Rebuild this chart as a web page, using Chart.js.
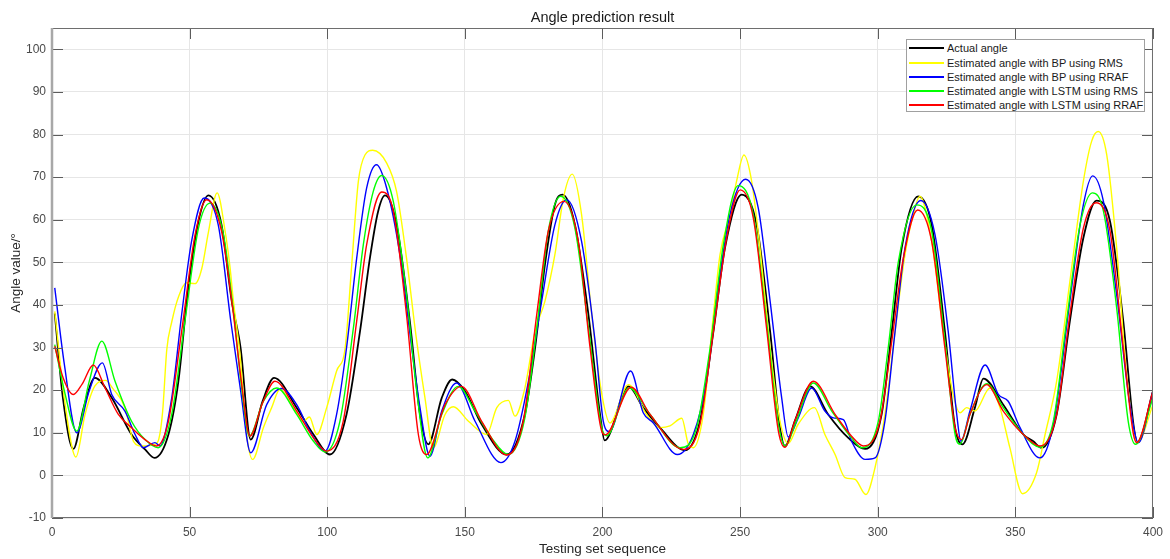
<!DOCTYPE html>
<html lang="en">
<head>
<meta charset="UTF-8">
<title>Angle prediction result</title>
<script src="https://cdn.jsdelivr.net/npm/chart.js"></script>
<style>
  html, body { margin: 0; padding: 0; background: #fff; }
  #wrap { position: relative; width: 1170px; height: 559px; }
  #legend {
    position: absolute; left: 906px; top: 39px; width: 237px; height: 71px;
    border: 1px solid #a0a0a0; background: #fff;
    font: 11px "Liberation Sans", Arial, sans-serif; color: #1a1a1a;
  }
  .row { position: absolute; left: 0; height: 14px; line-height: 14px; white-space: nowrap; }
  .row .swatch { position: absolute; left: 2px; top: 6px; width: 35px; height: 2px; }
  .row .txt { position: absolute; left: 40px; top: 0; }
</style>
</head>
<body>
<div id="wrap">
  <canvas id="c" width="1170" height="559"></canvas>
  <div id="legend"></div>
</div>
<script>
const titleText = 'Angle prediction result';
const xTitle = 'Testing set sequence';
const yTitle = 'Angle value/°';

// actual angle
const actualX = [1, 4, 7.75, 11.5, 15.6, 21.7, 28.9, 33.8, 37.2, 42.3, 45.9, 49.5, 53.2, 56.8, 61.6, 65.3, 68.5, 72.2, 76.5, 80.7, 88.9, 95, 101, 107, 111.9, 115.5, 118.5, 121, 125.2, 130, 133.7, 136.7, 141.6, 145.4, 150, 156.1, 165.2, 171.8, 175.5, 179.1, 182.7, 185.5, 190, 194.9, 199.1, 200.8, 209.4, 214.8, 220.9, 230, 235.4, 240.3, 244.5, 250.6, 256, 260.9, 264.5, 266.3, 270, 275.4, 282, 289.3, 295.4, 301.4, 305.1, 308.7, 314.7, 319.6, 324.4, 328.1, 330.8, 335.3, 338.4, 345.6, 352.9, 356.5, 359.5, 365, 369.8, 374.7, 379.5, 384.4, 389.2, 392.9, 394.4, 400];
const actualY = [38, 18, 6.2, 15.9, 22.9, 18.2, 9.6, 6.1, 4.1, 9.6, 22, 44, 59.6, 65.7, 58.8, 40.9, 30, 8.4, 17.4, 22.9, 15.9, 9.6, 4.9, 14.3, 33.8, 51, 62, 65.7, 58.8, 36.2, 14.3, 7.3, 18.2, 22.5, 19.8, 12, 4.9, 14.3, 29.9, 49.5, 63.5, 65.9, 58.8, 37.7, 14.3, 8.2, 20.9, 15.9, 11.2, 5.9, 12.7, 33.8, 53.4, 65.9, 58.8, 33.8, 11.2, 6.9, 13, 20.9, 14.3, 8.8, 6.2, 14.3, 33.8, 53.4, 65.5, 58.8, 33.8, 11.2, 7.3, 15.9, 22.7, 16.6, 9.6, 8.0, 6.5, 14.3, 36.2, 55.7, 64.5, 59.6, 36.2, 12, 7.7, 19.8];

// BP using RMS
const bpRmsX = [1, 4.5, 8.7, 12, 15.6, 19.5, 22, 26.5, 29.6, 32.6, 37.4, 38.8, 40.2, 41.7, 43.5, 46, 48.9, 52, 54.4, 56.8, 60, 62.9, 64.7, 65.9, 68.3, 70.7, 72.9, 76.8, 79.8, 82.8, 87.7, 91.3, 93.5, 96.2, 99.8, 103.4, 106.5, 108.9, 111.3, 113.7, 116.5, 121.6, 125.2, 128.8, 132.2, 135.5, 138.5, 142.8, 145.8, 151.3, 157.9, 161.6, 165.8, 168.2, 171.8, 175.5, 179.1, 182.7, 185.8, 189, 192.4, 196.1, 199.5, 202.7, 209.4, 216, 220.9, 224.5, 228.8, 231.2, 233, 236.6, 240.3, 242.7, 246.3, 248.7, 251.4, 254.2, 257.2, 260.9, 264.5, 267.5, 271.1, 277, 280.8, 284.5, 288.1, 291.7, 295.7, 299, 302.6, 306.3, 309.9, 312.9, 315.3, 319.6, 323.8, 326.9, 329.9, 332.3, 335.3, 340.8, 344.4, 348, 352.6, 357.7, 360.8, 365, 369.8, 374.7, 377.7, 380.1, 383.2, 386.8, 390.4, 394.4, 400];
const bpRmsY = [38.5, 18, 4.3, 14.3, 21, 22.3, 20.5, 15.9, 8.0, 6.9, 7.3, 8.5, 15, 29.5, 36, 42, 45.2, 45, 48.5, 57, 66.3, 57.3, 48.7, 40.9, 28.4, 9.6, 3.75, 11.2, 15.9, 20.2, 15.9, 12.7, 13.7, 9.6, 15.9, 24.5, 29.9, 49.5, 69, 75.2, 76.3, 73.3, 66.6, 51, 33, 18.2, 6.5, 14.3, 16.1, 12.7, 9.6, 15.9, 17.6, 13.9, 20.5, 33.8, 40.9, 51.8, 65.1, 70.7, 61.2, 37.7, 20, 12.3, 21.3, 14.3, 11.2, 11.6, 13.4, 7.3, 6.5, 14.3, 37.7, 51.8, 61.2, 69, 75.2, 69, 53.4, 29.9, 12.7, 7.5, 12, 15.9, 9.6, 4.9, -0.5, -0.9, -4.5, 1.8, 14.3, 33.8, 51.8, 61.2, 65.5, 54.9, 33.8, 20.5, 14.7, 15.9, 15.1, 20.5, 15.9, 6.5, -4.3, 0.6, 9.6, 22.1, 45.5, 69, 78.4, 80.7, 75.2, 53.4, 23.7, 7.7, 16.6];

// BP using RRAF
const bpRrafX = [1, 4.5, 9, 13.5, 18.3, 21.7, 26.5, 30.2, 33.2, 37.4, 39.2, 43.5, 47.1, 50.7, 55.3, 60.4, 65, 68.5, 72.2, 78, 83.4, 88.9, 93.7, 99.2, 103.4, 107, 110.7, 114.3, 117.9, 121.6, 126.4, 130.7, 133.7, 137.3, 141.6, 147, 153.7, 163.1, 168.2, 173.1, 177.9, 182.7, 187, 192.4, 197.3, 200.3, 202.5, 210.2, 214.8, 218.5, 227.2, 233, 237.8, 241.5, 246.3, 252, 256.6, 260.9, 265.1, 267.5, 271.1, 276, 280.8, 283.9, 287.5, 290.5, 295.4, 299, 302.6, 306.3, 309.9, 315.6, 320.8, 325.6, 328.7, 330.2, 333.5, 339, 343.8, 347.4, 351.7, 358.9, 363.8, 369.8, 374.7, 378.1, 382, 386.8, 391.6, 394.7, 400];
const bpRrafY = [44, 26, 10, 19.8, 26.4, 19, 15.1, 9.6, 6.5, 7.7, 6.9, 18.2, 37.7, 54.9, 65.1, 58.8, 36, 20, 5.3, 16.6, 20.4, 16.6, 10.4, 5.7, 14.3, 29.9, 51, 67.4, 72.9, 67.4, 51.8, 29.9, 15.9, 4.5, 15.1, 21.7, 12.7, 3.0, 8.0, 22.1, 40.9, 58.8, 64.7, 54.9, 31.5, 12.7, 10.3, 24.5, 14.7, 12.3, 4.9, 9.6, 22.1, 41.6, 61.2, 69.5, 62.7, 40.9, 18.2, 9.0, 13.5, 20.5, 15.1, 13.5, 13.1, 8.0, 3.75, 4.1, 12.7, 33.8, 53.4, 64.5, 56.5, 33.8, 14.3, 8.0, 15.1, 25.9, 19, 17.4, 11.2, 4.1, 12, 40.9, 63.5, 70.3, 64.3, 42.4, 16.6, 7.7, 19.8];

// LSTM using RMS
const lstmRmsX = [1, 4.5, 9, 13.5, 18.1, 22.9, 28.9, 33.8, 38.6, 43.5, 48.3, 53.2, 57.4, 62.3, 66, 69, 71.7, 76.8, 81.6, 88.9, 95, 99.2, 104.6, 109.5, 113.1, 116.7, 119.8, 124, 128.8, 132.5, 136.5, 141.6, 147.6, 153.7, 159.7, 165.8, 171.8, 176.7, 180.3, 184.8, 190, 194.9, 199.7, 201.5, 209.7, 217.3, 228.2, 234.2, 239.1, 243.9, 249.3, 254.8, 259.6, 263.9, 266.5, 270, 276.6, 283.3, 290.5, 294.2, 300.2, 303.8, 307.5, 314.1, 319.6, 324.4, 328.1, 329.9, 333.5, 339.6, 345.6, 352.9, 358.9, 363.8, 368.6, 373.5, 378, 382, 386.8, 391, 393.7, 400];
const lstmRmsY = [30.7, 19.8, 10.4, 22, 31.5, 22.1, 12.7, 8.4, 6.5, 14.3, 36.2, 58, 63.9, 56.5, 38, 20, 9.2, 17.4, 20.5, 14.3, 8.0, 5.5, 12.7, 34.6, 54.1, 66.6, 70.4, 64.3, 42.4, 19.8, 4.1, 14.3, 20.9, 15.1, 8.8, 4.9, 13.5, 37.7, 57.3, 65.5, 58, 34.6, 11.2, 9.3, 20.5, 14.3, 6.5, 11.2, 29.9, 54.1, 68, 61.2, 36.2, 12, 6.9, 12, 21.7, 15.1, 8.8, 6.5, 12.7, 29.9, 50.2, 63.5, 57.3, 31.5, 9.6, 7.3, 14.3, 21.5, 15.9, 9.6, 6.6, 12.7, 36.2, 58.8, 66.3, 62, 39.3, 12.7, 7.3, 18.2];

// LSTM using RRAF
const lstmRrafX = [1, 4, 7.75, 11, 15, 19.3, 24.1, 28.9, 33.8, 38, 42.3, 47.1, 52, 56.2, 61.6, 65.5, 68.8, 71.9, 76.5, 81, 88.9, 95, 99.8, 105.8, 110.7, 114.3, 119.8, 124, 128.8, 133.1, 136.1, 142.8, 148.8, 156.1, 165.2, 171.2, 176.1, 180.3, 186, 191.2, 195.5, 199.7, 201, 210.4, 217.3, 229.4, 235.4, 240.3, 245.1, 250, 254.8, 259.6, 263.9, 266.3, 270, 276.6, 284.5, 290.5, 294.8, 300.8, 305.1, 309.3, 314.5, 319.6, 324.4, 328.1, 330.5, 333.5, 339.6, 345.6, 352.9, 358.9, 365, 369.8, 374.7, 379.3, 384.4, 389.2, 392.9, 394.1, 400];
const lstmRrafY = [30.3, 23, 19, 21.5, 25.9, 20.5, 14.3, 11.2, 8.4, 6.9, 12.7, 33.8, 56.5, 64.7, 57.3, 40, 22, 9.2, 17, 22.1, 15.1, 8.8, 5.7, 12.7, 36.2, 54.1, 66.5, 62, 37.7, 9.6, 4.9, 16.6, 20.9, 12.7, 4.8, 12.7, 37.7, 57.3, 64.3, 54.9, 29.9, 10.4, 9.5, 20.7, 14.3, 6.1, 12, 33.8, 55.7, 67, 60.4, 34.6, 10.4, 6.6, 13, 22.1, 14.3, 9.2, 6.9, 12.7, 31.5, 51, 62.3, 54.9, 29.9, 11.2, 8.4, 14.3, 21.3, 15.1, 9.6, 6.9, 14.3, 37.7, 58, 64, 57.3, 29.9, 9.6, 7.7, 19.8];

const seriesLabels = ['Actual angle', 'Estimated angle with BP using RMS', 'Estimated angle with BP using RRAF', 'Estimated angle with LSTM using RMS', 'Estimated angle with LSTM using RRAF'];
const seriesColors = ['#000000', '#ffff00', '#0000ff', '#00ff00', '#ff0000'];
const seriesWidths = [1.8, 1.4, 1.4, 1.4, 1.4];
const xTicks = [0, 50, 100, 150, 200, 250, 300, 350, 400];
const yTicks = [-10, 0, 10, 20, 30, 40, 50, 60, 70, 80, 90, 100];

const seriesX = [actualX, bpRmsX, bpRrafX, lstmRmsX, lstmRrafX];
const seriesY = [actualY, bpRmsY, bpRrafY, lstmRmsY, lstmRrafY];

function pts(xs, ys) {
  return xs.map((x, i) => ({ x: x, y: ys[i] }));
}

const datasets = seriesLabels.map((label, i) => ({
  label: label,
  data: pts(seriesX[i], seriesY[i]),
  borderColor: seriesColors[i],
  borderWidth: seriesWidths[i],
  pointRadius: 0,
  fill: false,
  cubicInterpolationMode: 'monotone',
  order: seriesLabels.length - i   // last series drawn on top, like MATLAB
}));

const font = '"Liberation Sans", Arial, sans-serif';

// axes box, inner tick marks and the title
const frame = {
  id: 'frame',
  afterDraw(chart) {
    const { ctx, chartArea: a, scales } = chart;
    const sx = scales.x, sy = scales.y;
    ctx.save();
    ctx.strokeStyle = '#5c5c5c';
    ctx.lineWidth = 1;
    ctx.beginPath();
    xTicks.forEach(v => {
      const px = Math.round(sx.getPixelForValue(v)) + 0.5;
      ctx.moveTo(px, a.bottom); ctx.lineTo(px, a.bottom - 11);
      ctx.moveTo(px, a.top); ctx.lineTo(px, a.top + 11);
    });
    yTicks.forEach(v => {
      const py = Math.round(sy.getPixelForValue(v)) + 0.5;
      ctx.moveTo(a.left, py); ctx.lineTo(a.left + 11, py);
      ctx.moveTo(a.right, py); ctx.lineTo(a.right - 11, py);
    });
    ctx.stroke();

    ctx.strokeStyle = '#6e6e6e';
    ctx.beginPath();
    ctx.moveTo(a.left, a.top + 0.5); ctx.lineTo(a.right, a.top + 0.5);
    ctx.moveTo(a.right - 0.5, a.top); ctx.lineTo(a.right - 0.5, a.bottom);
    ctx.moveTo(a.left, a.bottom - 0.5); ctx.lineTo(a.right, a.bottom - 0.5);
    ctx.stroke();
    ctx.strokeStyle = '#a8a8a8';
    ctx.lineWidth = 2.5;
    ctx.beginPath();
    ctx.moveTo(a.left, a.top); ctx.lineTo(a.left, a.bottom);
    ctx.stroke();

    ctx.fillStyle = '#1a1a1a';
    ctx.font = '14.5px ' + font;
    ctx.textAlign = 'center';
    ctx.textBaseline = 'middle';
    ctx.fillText(titleText, (a.left + a.right) / 2, 18);
    ctx.restore();
  }
};

const chart = new Chart(document.getElementById('c'), {
  type: 'line',
  data: { datasets: datasets },
  options: {
    responsive: false,
    animation: false,
    devicePixelRatio: 1,
    layout: { padding: { top: 28, right: 17, bottom: 0, left: 0 } },
    plugins: { legend: { display: false }, tooltip: { enabled: false } },
    scales: {
      x: {
        type: 'linear', min: 0, max: 400,
        afterBuildTicks: s => { s.ticks = xTicks.map(v => ({ value: v })); },
        afterFit: s => { s.height = 41; },
        ticks: { color: '#4a4a4a', font: { family: font, size: 12 }, padding: 7, maxRotation: 0 },
        grid: { color: '#e6e6e6', drawTicks: false },
        border: { display: false },
        title: { display: true, text: xTitle, color: '#262626', font: { family: font, size: 13.5 }, padding: { top: 0, bottom: 2 } }
      },
      y: {
        type: 'linear', min: -10, max: 105,
        afterBuildTicks: s => { s.ticks = yTicks.map(v => ({ value: v })); },
        afterFit: s => { s.width = 52; },
        ticks: { color: '#4a4a4a', font: { family: font, size: 12 }, padding: 6 },
        grid: { color: '#e6e6e6', drawTicks: false },
        border: { display: false },
        title: { display: true, text: yTitle, color: '#262626', font: { family: font, size: 13.5 }, padding: { top: 8, bottom: 0 } }
      }
    }
  },
  plugins: [frame]
});

// legend box in series order
const legend = document.getElementById('legend');
seriesLabels.forEach((label, i) => {
  const row = document.createElement('div');
  row.className = 'row';
  row.style.top = (1.3 + i * 14.2) + 'px';
  const sw = document.createElement('span');
  sw.className = 'swatch';
  sw.style.backgroundColor = seriesColors[i];
  const tx = document.createElement('span');
  tx.className = 'txt';
  tx.textContent = label;
  row.appendChild(sw);
  row.appendChild(tx);
  legend.appendChild(row);
});
</script>
</body>
</html>
